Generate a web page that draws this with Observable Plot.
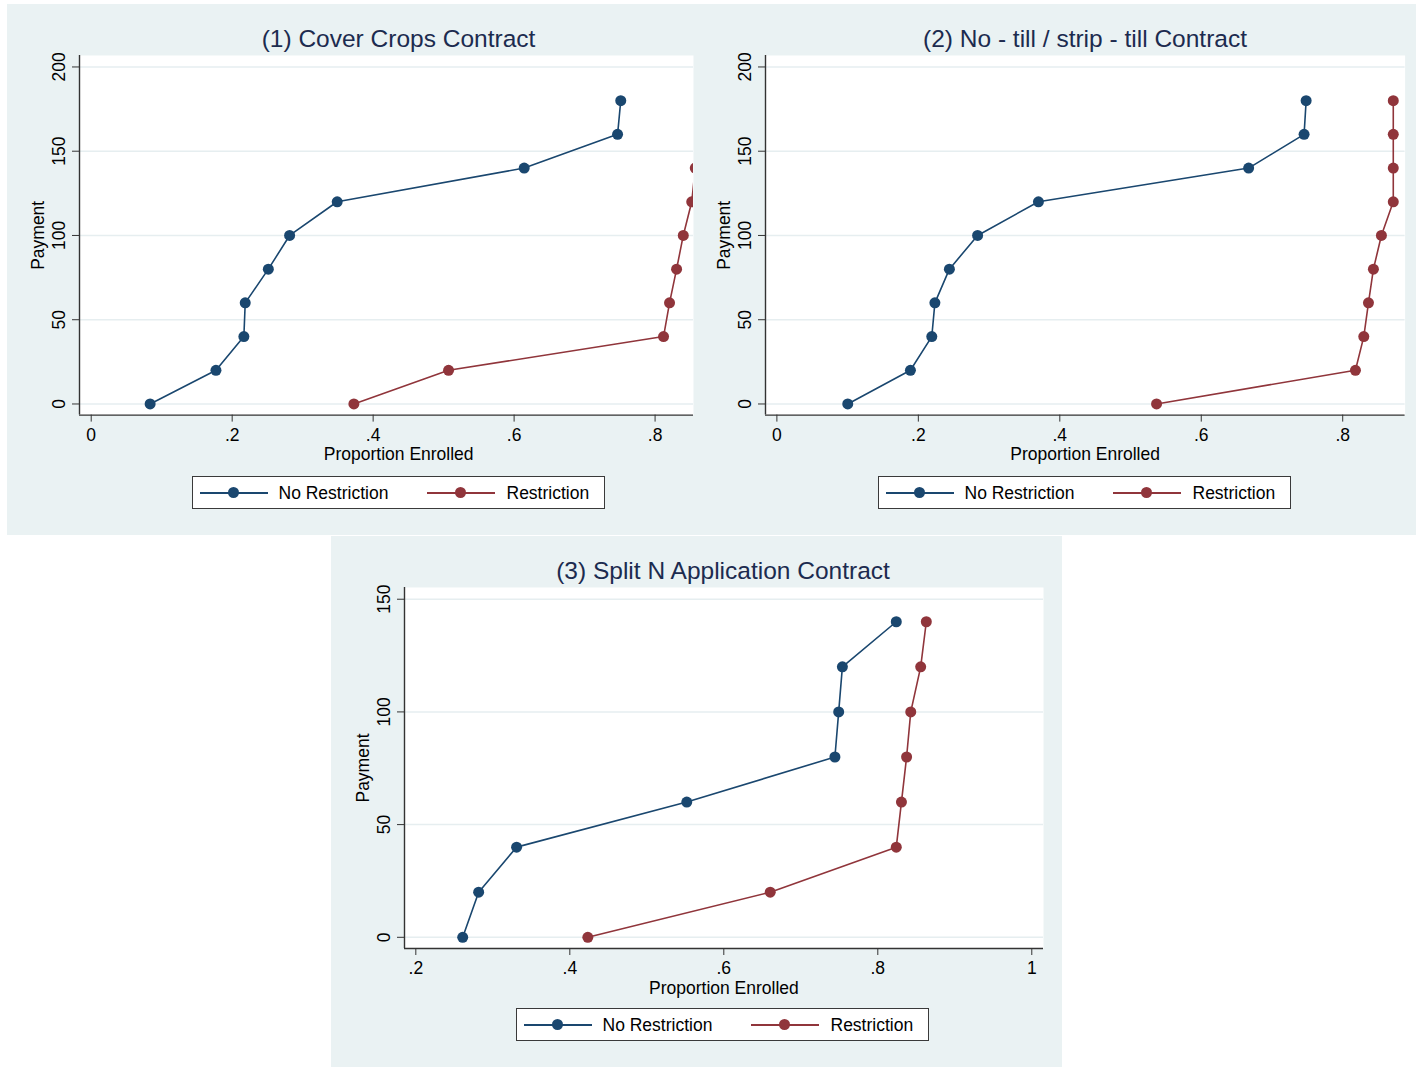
<!DOCTYPE html>
<html><head><meta charset="utf-8">
<script src="https://cdn.jsdelivr.net/npm/d3@7"></script>
<script src="https://cdn.jsdelivr.net/npm/@observablehq/plot@0.6"></script>
<style>
body{margin:0;background:#fff;font-family:"Liberation Sans",Arial,Helvetica,sans-serif;}
#root{position:relative;width:1417px;height:1067px;overflow:hidden;}
.bg{position:absolute;background:#eaf2f3;}
.title{position:absolute;width:700px;text-align:center;font-size:24.5px;line-height:30px;color:#1c2b4f;white-space:nowrap;}
.legend{position:absolute;width:413px;height:33px;box-sizing:border-box;border:1.5px solid #3a3a3a;background:#fff;}
.lg-line{position:absolute;height:1.6px;width:68px;top:15px;}
.lg-dot{position:absolute;width:11px;height:11px;border-radius:50%;top:10.3px;}
.lg-text{position:absolute;font-size:17.5px;line-height:20px;top:6.4px;color:#000;white-space:nowrap;}
</style>
</head>
<body>
<div id="root">
  <div class="bg" style="left:7px;top:4px;width:1409px;height:531px"></div>
  <div class="bg" style="left:331px;top:536px;width:731px;height:531px"></div>
</div>
<script>
// ---------- data ----------
const seriesNames = ["No Restriction", "Restriction"];
const seriesColors = ["#1a476f", "#90353b"];

const panelTitles = [
  "(1) Cover Crops Contract",
  "(2) No - till / strip - till Contract",
  "(3) Split N Application Contract"
];
const xAxisTitle = "Proportion Enrolled";
const yAxisTitle = "Payment";

// Panel 1: Cover crops
const ccPaymentsNo = [0, 20, 40, 60, 80, 100, 120, 140, 160, 180];
const ccNoRestriction = [0.0836, 0.177, 0.2166, 0.2185, 0.2513, 0.2815, 0.349, 0.6143, 0.7468, 0.7513];
const ccPaymentsR = [0, 20, 40, 60, 80, 100, 120, 140];
const ccRestriction = [0.3727, 0.507, 0.812, 0.8205, 0.8305, 0.840, 0.852, 0.857];

// Panel 2: No-till / strip-till
const ntPayments = [0, 20, 40, 60, 80, 100, 120, 140, 160, 180];
const ntNoRestriction = [0.1002, 0.1888, 0.219, 0.2234, 0.2439, 0.2838, 0.3698, 0.667, 0.7454, 0.7483];
const ntRestriction = [0.5368, 0.818, 0.8298, 0.8364, 0.8434, 0.8547, 0.8715, 0.8715, 0.8715, 0.8715];

// Panel 3: Split N application
const snPayments = [0, 20, 40, 60, 80, 100, 120, 140];
const snNoRestriction = [0.2609, 0.2816, 0.3309, 0.5519, 0.7443, 0.7492, 0.754, 0.824];
const snRestriction = [0.4234, 0.6603, 0.824, 0.8307, 0.8374, 0.8428, 0.8557, 0.863];

// tick labels
const xTicksA = [0, 0.2, 0.4, 0.6, 0.8];
const yTicksA = [0, 50, 100, 150, 200];
const xTicksB = [0.2, 0.4, 0.6, 0.8, 1];
const yTicksB = [0, 50, 100, 150];

// ---------- layout ----------
const panels = [
  {title: panelTitles[0], x0: 79.3, x1: 693.3, y0: 55.1, y1: 414.7, center: 398.5, top: 4,
   xDomain: [-0.0166, 0.8545], yDomain: [-6.6, 206.8], xTicks: xTicksA, yTicks: yTicksA,
   series: [[ccPaymentsNo, ccNoRestriction], [ccPaymentsR, ccRestriction]], legendLeft: 192},
  {title: panelTitles[1], x0: 765.4, x1: 1405, y0: 55.1, y1: 414.7, center: 1085, top: 4,
   xDomain: [-0.0161, 0.8882], yDomain: [-6.6, 206.8], xTicks: xTicksA, yTicks: yTicksA,
   series: [[ntPayments, ntNoRestriction], [ntPayments, ntRestriction]], legendLeft: 878},
  {title: panelTitles[2], x0: 403.6, x1: 1042.6, y0: 587, y1: 948, center: 723, top: 536,
   xDomain: [0.1853, 1.0152], yDomain: [-4.97, 155.2], xTicks: xTicksB, yTicks: yTicksB,
   series: [[snPayments, snNoRestriction], [snPayments, snRestriction]], legendLeft: 516}
];

const fmt = d => d === 0 ? "0" : d === 1 ? "1" : String(+d.toFixed(2)).replace(/^0\./, ".");
const root = document.getElementById("root");

panels.forEach(p => {
  const ML = 90, MT = 20, MR = 20, MB = 70;
  const w = p.x1 - p.x0, h = p.y1 - p.y0;
  const seriesMarks = [];
  p.series.forEach(([pay, prop], i) => {
    const data = pay.map((y, j) => ({x: prop[j], y, s: seriesNames[i]}));
    seriesMarks.push(Plot.line(data, {x: "x", y: "y", stroke: seriesColors[i], strokeWidth: 1.6, clip: true}));
    seriesMarks.push(Plot.dot(data, {x: "x", y: "y", r: 5.5, fill: seriesColors[i], stroke: "none", clip: true}));
  });
  const frameCenter = (p.x0 + p.x1) / 2;
  const svg = Plot.plot({
    width: w + ML + MR, height: h + MT + MB,
    marginLeft: ML, marginTop: MT, marginRight: MR, marginBottom: MB,
    style: {background: "transparent", fontFamily: '"Liberation Sans", Arial, Helvetica, sans-serif', fontSize: "17.5px", color: "#000", overflow: "visible"},
    x: {domain: p.xDomain, axis: null},
    y: {domain: p.yDomain, axis: null},
    marks: [
      Plot.frame({fill: "white", stroke: "none"}),
      Plot.gridY(p.yTicks, {stroke: "#e6eef0", strokeOpacity: 1, strokeWidth: 1.5}),
      ...seriesMarks,
      Plot.axisX(p.xTicks, {anchor: "bottom", tickSize: 7, tickPadding: 6, tickFormat: fmt, stroke: "#333", fill: "#000", lineAnchor: "top", fontSize: 17.5, label: null}),
      Plot.axisY(p.yTicks, {anchor: "left", tickSize: 7, tickPadding: 8, tickRotate: -90, textAnchor: "middle", lineAnchor: "bottom", stroke: "#333", fill: "#000", fontSize: 17.5, label: null}),
      Plot.ruleY([p.yDomain[0]], {stroke: "#333", strokeWidth: 1.4}),
      Plot.ruleX([p.xDomain[0]], {stroke: "#333", strokeWidth: 1.4}),
      Plot.text([xAxisTitle], {frameAnchor: "bottom", dx: p.center - frameCenter, dy: 45.3, textAnchor: "middle", lineAnchor: "bottom", fill: "#000", fontSize: 17.5}),
      Plot.text([yAxisTitle], {frameAnchor: "left", dx: -41, rotate: -90, textAnchor: "middle", lineAnchor: "middle", fill: "#000", fontSize: 17.5})
    ]
  });
  svg.style.position = "absolute";
  svg.style.left = (p.x0 - ML) + "px";
  svg.style.top = (p.y0 - MT) + "px";
  svg.style.maxWidth = "none";
  root.appendChild(svg);

  // title
  const t = document.createElement("div");
  t.className = "title";
  t.textContent = p.title;
  t.style.left = (p.center - 350) + "px";
  t.style.top = (p.top + 19.5) + "px";
  root.appendChild(t);

  // legend
  const lg = document.createElement("div");
  lg.className = "legend";
  lg.style.left = p.legendLeft + "px";
  lg.style.top = (p.top + 472) + "px";
  const offs = [[6.5, 40.5, 85.5], [233.5, 267.5, 313.5]];
  seriesNames.forEach((name, i) => {
    const [lx, dx, tx] = offs[i];
    const ln = document.createElement("div");
    ln.className = "lg-line"; ln.style.left = lx + "px"; ln.style.background = seriesColors[i];
    const dt = document.createElement("div");
    dt.className = "lg-dot"; dt.style.left = (dx - 5.5) + "px"; dt.style.background = seriesColors[i];
    const tx_ = document.createElement("div");
    tx_.className = "lg-text"; tx_.style.left = tx + "px"; tx_.textContent = name;
    lg.append(ln, dt, tx_);
  });
  root.appendChild(lg);
});
</script>
</body></html>
